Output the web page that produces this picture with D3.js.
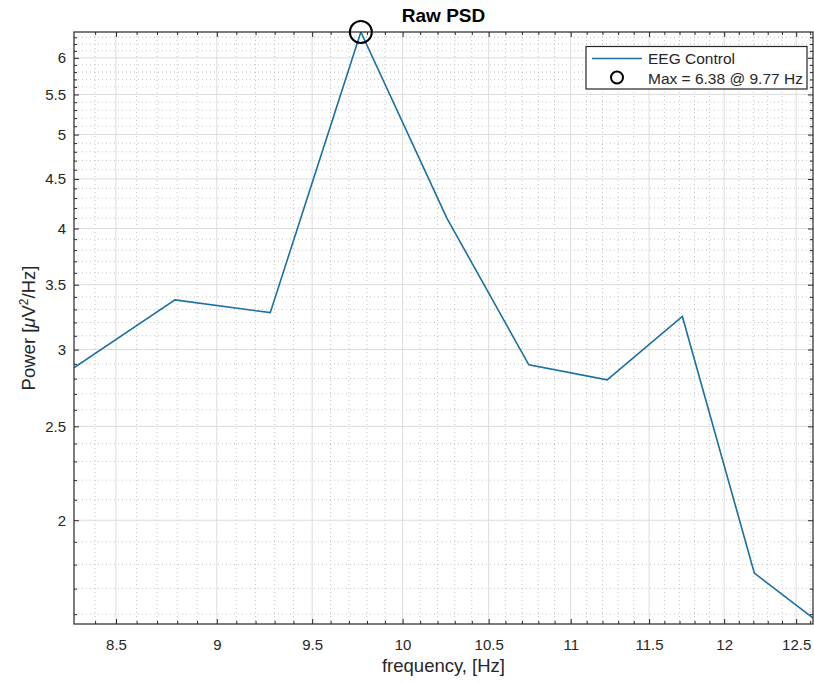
<!DOCTYPE html>
<html lang="en">
	<head>
		<meta charset="utf-8">
		<title>Raw PSD</title>
		<script type="text/javascript" src="https://cdn.jsdelivr.net/npm/d3@7"></script>
		<style type="text/css">
			body{
				margin: 0;
				background: white;
			}
			text{
				font-family: "Liberation Sans", Arial, sans-serif;
				fill: #262626;
			}
			.tickLabel{
				font-size: 15px;
			}
			.axisTitle{
				font-size: 18.5px;
			}
			.headTitle{
				font-size: 19px;
				font-weight: bold;
				fill: black;
			}
			.legend{
				font-size: 15.5px;
			}
		</style>
	</head>
	<body>
		<div class="chart"></div>
		<script type="text/javascript">

			// frequency bins (Hz) and power values (uV^2/Hz)
			var freqs = [8.301, 8.789, 9.277, 9.766, 10.254, 10.742, 11.230, 11.719, 12.207, 12.695];
			var power = [2.874, 3.376, 3.275, 6.38, 4.10, 2.893, 2.792, 3.246, 1.764, 1.556];

			var xTicks = [8.5, 9, 9.5, 10, 10.5, 11, 11.5, 12, 12.5];
			var yTicks = [2, 2.5, 3, 3.5, 4, 4.5, 5, 5.5, 6];
			var seriesName = "EEG Control";

			var w = 814;
			var h = 683;

			// plot box (note: "top" is taken by window.top, so prefix these)
			var pLeft = 74, pRight = 813, pTop = 32, pBottom = 624;
			var lineColor = "#1b6fa3";
			var axisColor = "#262626";

			var xDomain = [8.3, 12.62];
			var yDomain = [1.563, 6.38];

			var xScale = d3.scaleLog()
						.domain(xDomain)
						.range([pLeft, pRight]);

			var yScale = d3.scaleLog()
						.domain(yDomain)
						.range([pBottom, pTop]);

			// minor ticks every 0.1, skipping the major ones
			var xMinor = d3.range(83, 127).map((d) => d / 10)
						.filter((d) => xTicks.indexOf(d) < 0 && d > xDomain[0] && d < xDomain[1]);
			var yMinor = d3.range(16, 64).map((d) => d / 10)
						.filter((d) => yTicks.indexOf(d) < 0 && d > yDomain[0] && d < yDomain[1]);

			var svg = d3.select("div.chart")
						.append("svg")
						.attr("width", w)
						.attr("height", h);

			svg.append("defs").append("clipPath")
				.attr("id", "plotClip")
				.append("rect")
				.attr("x", pLeft)
				.attr("y", pTop)
				.attr("width", pRight - pLeft)
				.attr("height", pBottom - pTop);

			var grid = svg.append("g");

			// minor grid, dotted
			grid.selectAll("line.xMinor")
				.data(xMinor)
				.enter()
				.append("line")
				.attr("x1", (d) => xScale(d))
				.attr("x2", (d) => xScale(d))
				.attr("y1", pTop)
				.attr("y2", pBottom)
				.attr("stroke", "#c4c4c4")
				.attr("stroke-width", 1)
				.attr("stroke-dasharray", "1,3");

			grid.selectAll("line.yMinor")
				.data(yMinor)
				.enter()
				.append("line")
				.attr("x1", pLeft)
				.attr("x2", pRight)
				.attr("y1", (d) => yScale(d))
				.attr("y2", (d) => yScale(d))
				.attr("stroke", "#c4c4c4")
				.attr("stroke-width", 1)
				.attr("stroke-dasharray", "1,3");

			// major grid
			grid.selectAll("line.xMajor")
				.data(xTicks)
				.enter()
				.append("line")
				.attr("x1", (d) => xScale(d))
				.attr("x2", (d) => xScale(d))
				.attr("y1", pTop)
				.attr("y2", pBottom)
				.attr("stroke", "#dcdcdc")
				.attr("stroke-width", 1);

			grid.selectAll("line.yMajor")
				.data(yTicks)
				.enter()
				.append("line")
				.attr("x1", pLeft)
				.attr("x2", pRight)
				.attr("y1", (d) => yScale(d))
				.attr("y2", (d) => yScale(d))
				.attr("stroke", "#dcdcdc")
				.attr("stroke-width", 1);

			// the PSD line
			var line = d3.line()
						.x((d, i) => xScale(freqs[i]))
						.y((d) => yScale(d));

			svg.append("path")
				.datum(power)
				.attr("clip-path", "url(#plotClip)")
				.attr("d", line)
				.attr("fill", "none")
				.attr("stroke", lineColor)
				.attr("stroke-width", 1.6);

			// axes: ticks point inward like matlab
			function styleAxis(g){
				g.selectAll(".domain").remove();
				g.selectAll(".tick line").attr("stroke", axisColor);
				g.selectAll(".tick text")
					.attr("class", "tickLabel")
					.attr("fill", axisColor);
			}

			var xAxis = d3.axisBottom(xScale)
						.tickValues(xTicks)
						.tickFormat(d3.format("~g"))
						.tickSizeInner(-5)
						.tickSizeOuter(0)
						.tickPadding(15);

			var yAxis = d3.axisLeft(yScale)
						.tickValues(yTicks)
						.tickFormat(d3.format("~g"))
						.tickSizeInner(-5)
						.tickSizeOuter(0)
						.tickPadding(8);

			svg.append("g")
				.attr("transform", "translate(0," + pBottom + ")")
				.call(xAxis)
				.call(styleAxis);

			svg.append("g")
				.attr("transform", "translate(" + pLeft + ",0)")
				.call(yAxis)
				.call(styleAxis);

			// top and right tick marks
			svg.append("g")
				.attr("transform", "translate(0," + pTop + ")")
				.call(d3.axisTop(xScale).tickValues(xTicks).tickFormat("").tickSizeInner(-5).tickSizeOuter(0))
				.call(styleAxis);

			svg.append("g")
				.attr("transform", "translate(" + pRight + ",0)")
				.call(d3.axisRight(yScale).tickValues(yTicks).tickFormat("").tickSizeInner(-5).tickSizeOuter(0))
				.call(styleAxis);

			// minor ticks on all four sides
			svg.append("g")
				.attr("transform", "translate(0," + pBottom + ")")
				.call(d3.axisBottom(xScale).tickValues(xMinor).tickFormat("").tickSizeInner(-3).tickSizeOuter(0))
				.call(styleAxis);
			svg.append("g")
				.attr("transform", "translate(0," + pTop + ")")
				.call(d3.axisTop(xScale).tickValues(xMinor).tickFormat("").tickSizeInner(-3).tickSizeOuter(0))
				.call(styleAxis);
			svg.append("g")
				.attr("transform", "translate(" + pLeft + ",0)")
				.call(d3.axisLeft(yScale).tickValues(yMinor).tickFormat("").tickSizeInner(-3).tickSizeOuter(0))
				.call(styleAxis);
			svg.append("g")
				.attr("transform", "translate(" + pRight + ",0)")
				.call(d3.axisRight(yScale).tickValues(yMinor).tickFormat("").tickSizeInner(-3).tickSizeOuter(0))
				.call(styleAxis);

			// box
			svg.append("rect")
				.attr("x", pLeft)
				.attr("y", pTop)
				.attr("width", pRight - pLeft)
				.attr("height", pBottom - pTop)
				.attr("fill", "none")
				.attr("stroke", axisColor)
				.attr("stroke-width", 1.2);

			// max marker
			var maxVal = d3.max(power);
			var maxIdx = power.indexOf(maxVal);

			svg.append("circle")
				.attr("cx", xScale(freqs[maxIdx]))
				.attr("cy", yScale(maxVal))
				.attr("r", 11)
				.attr("fill", "none")
				.attr("stroke", "black")
				.attr("stroke-width", 2);

			// titles
			svg.append("text")
				.attr("class", "headTitle")
				.attr("x", (pLeft + pRight) / 2)
				.attr("y", 22)
				.attr("text-anchor", "middle")
				.text("Raw PSD");

			svg.append("text")
				.attr("class", "axisTitle")
				.attr("x", (pLeft + pRight) / 2)
				.attr("y", 672)
				.attr("text-anchor", "middle")
				.text("frequency, [Hz]");

			var yLab = svg.append("text")
				.attr("class", "axisTitle")
				.attr("text-anchor", "middle")
				.attr("transform", "translate(35," + ((pTop + pBottom) / 2) + ") rotate(-90)");
			yLab.append("tspan").text("Power [");
			yLab.append("tspan").attr("font-style", "italic").text("\u03bc");
			yLab.append("tspan").text("V");
			yLab.append("tspan").attr("font-size", "12px").attr("dy", "-7").text("2");
			yLab.append("tspan").attr("dy", "7").text("/Hz]");

			// legend
			var legend = svg.append("g");

			legend.append("rect")
				.attr("x", 586)
				.attr("y", 46.5)
				.attr("width", 221)
				.attr("height", 42.5)
				.attr("fill", "white")
				.attr("stroke", axisColor)
				.attr("stroke-width", 1.2);

			legend.append("line")
				.attr("x1", 592)
				.attr("x2", 642)
				.attr("y1", 58.5)
				.attr("y2", 58.5)
				.attr("stroke", lineColor)
				.attr("stroke-width", 1.6);

			legend.append("text")
				.attr("class", "legend")
				.attr("x", 648)
				.attr("y", 64)
				.text(seriesName);

			legend.append("circle")
				.attr("cx", 617)
				.attr("cy", 77.5)
				.attr("r", 6)
				.attr("fill", "none")
				.attr("stroke", "black")
				.attr("stroke-width", 2);

			legend.append("text")
				.attr("class", "legend")
				.attr("x", 648)
				.attr("y", 83.5)
				.text("Max = " + maxVal.toFixed(2) + " @ " + freqs[maxIdx].toFixed(2) + " Hz");

		</script>
	</body>
</html>
